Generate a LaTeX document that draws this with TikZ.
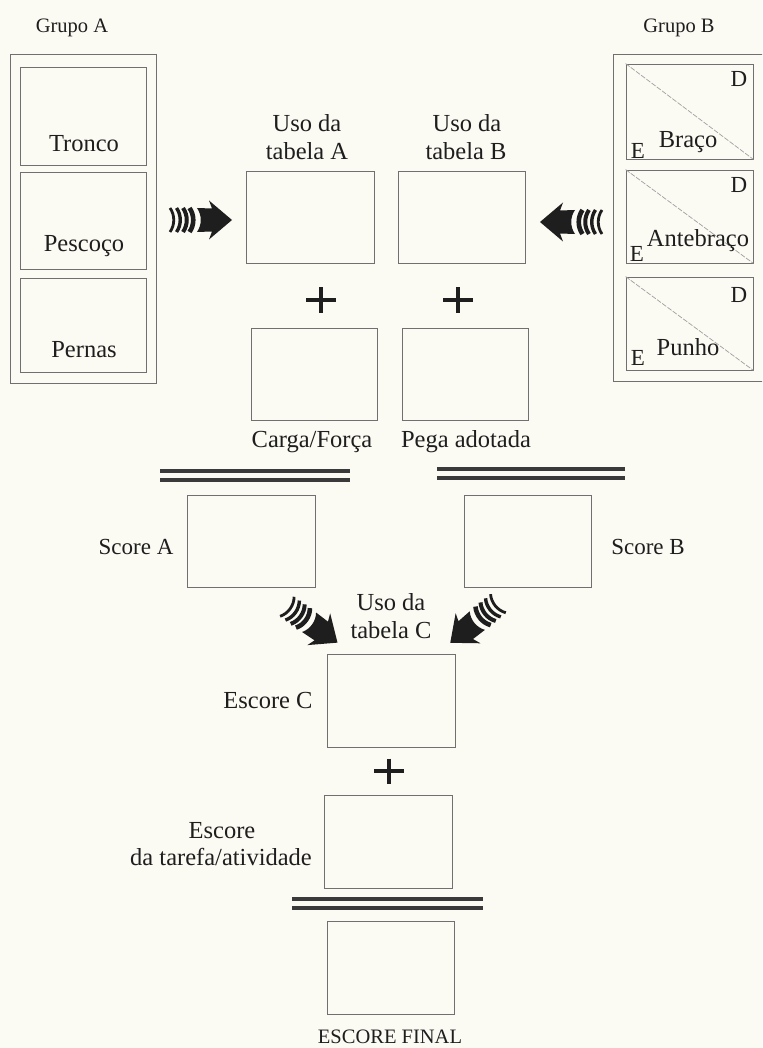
\documentclass[tikz,border=0pt]{standalone}
\usepackage{fontspec}
\setmainfont{Liberation Serif}
\usetikzlibrary{calc}
\definecolor{paper}{HTML}{FBFAF3}
\definecolor{ink}{HTML}{1E1E1E}
\definecolor{frame}{HTML}{707070}
\definecolor{bar}{HTML}{3A3A3A}
\tikzset{
  box/.style={draw=frame, line width=0.9pt, inner sep=0pt},
  lbl/.style={text=ink, font=\fontsize{24.5}{28}\selectfont, inner sep=0pt, anchor=base},
  small/.style={font=\fontsize{20.5}{24}\selectfont},
  mid/.style={font=\fontsize{23}{28}\selectfont},
  plusmark/.style={draw=ink, line width=4pt},
  dbar/.style={draw=bar, line width=3.2pt},
  diag/.style={draw=gray!75, line width=0.7pt, dash pattern=on 5pt off 1.5pt},
  % striped block arrow pointing along +x, centred on the origin
  sarrow/.pic={
    \fill[ink] (-3,-12) .. controls (2,-5) and (2,5) .. (-3,12) -- (12,11.5)
      -- (9,19.5) -- (32,0) -- (9,-19.5) -- (12,-11.5) -- cycle;
    \foreach \x/\w in {-27/2.8,-20.5/3.4,-14/4.0,-7.5/4.6}
      \draw[ink, line width=\w pt] (\x-3,-12) .. controls (\x+2,-5) and (\x+2,5) .. (\x-3,12);
  }
}
\begin{document}
\begin{tikzpicture}[x=1pt,y=-1pt]
\fill[paper] (0,0) rectangle (762,1048);
\useasboundingbox (0,0) rectangle (762,1048);
\clip (0,0) rectangle (762,1048);

% ---- Grupo A ----
\node[lbl, small] (grpAlbl) at (72,33) {Grupo A};
\node[box, minimum width=146pt, minimum height=329pt] (grpA) at (83,218.5) {};
\node[box, minimum width=126pt, minimum height=98pt] (tronco) at (83,116) {};
\node[box, minimum width=126pt, minimum height=97pt] (pescoco) at (83,220.5) {};
\node[box, minimum width=126pt, minimum height=94pt] (pernas) at (83,325) {};
\node[lbl] (troncolbl) at (84,152) {Tronco};
\node[lbl] (pescocolbl) at (84,252) {Pescoço};
\node[lbl] (pernaslbl) at (84,357) {Pernas};

% ---- Grupo B ----
\node[lbl, small] (grpBlbl) at (679,33) {Grupo B};
\node[box, minimum width=162pt, minimum height=327pt] (grpB) at (694,217.5) {};
\node[box, minimum width=127pt, minimum height=95pt] (braco) at (689.5,111.5) {};
\node[box, minimum width=127pt, minimum height=93pt] (antebraco) at (689.5,216.5) {};
\node[box, minimum width=127pt, minimum height=93pt] (punho) at (689.5,323.5) {};
\foreach \b in {braco,antebraco,punho}
  \draw[diag] (\b.north west) -- (\b.south east);
\node[lbl] (bracolbl) at (688,148) {Braço};
\node[lbl] (antebracolbl) at (698,247) {Antebraço};
\node[lbl] (punholbl) at (688,355) {Punho};
\node[lbl, mid] (bracoD) at (739,87) {D};
\node[lbl, mid] (antebracoD) at (739,193) {D};
\node[lbl, mid] (punhoD) at (739,302) {D};
\node[lbl, mid] (bracoE) at (638,159) {E};
\node[lbl, mid] (antebracoE) at (637,262) {E};
\node[lbl, mid] (punhoE) at (638,365) {E};

% ---- tables A and B ----
\node[lbl] (usoA1) at (307,132) {Uso da};
\node[lbl] (usoA2) at (307,160) {tabela A};
\node[lbl] (usoB1) at (467,132) {Uso da};
\node[lbl] (usoB2) at (466,160) {tabela B};
\node[box, minimum width=128pt, minimum height=92pt] (tabA) at (310,217) {};
\node[box, minimum width=127pt, minimum height=92pt] (tabB) at (461.5,217) {};

\coordinate (arrA) at (200,220);
\coordinate (arrB) at (572,222);
\pic at (arrA) {sarrow};
\pic[rotate=180] at (arrB) {sarrow};

\coordinate (plusA) at (321,300);
\coordinate (plusB) at (458,300);
\foreach \p in {plusA,plusB}
  \draw[plusmark] ($(\p)+(-15,0)$) -- ($(\p)+(15,0)$) ($(\p)+(0,-12.5)$) -- ($(\p)+(0,12.5)$);

\node[box, minimum width=126pt, minimum height=92pt] (carga) at (314,374) {};
\node[box, minimum width=126pt, minimum height=92pt] (pega) at (465,374) {};
\node[lbl] (cargalbl) at (312,447) {Carga/Força};
\node[lbl] (pegalbl) at (466,447) {Pega adotada};

% ---- equals bars ----
\coordinate (eqAl) at (160,471); \coordinate (eqAr) at (350,471);
\coordinate (eqBl) at (437,469); \coordinate (eqBr) at (625,469);
\draw[dbar] (eqAl) -- (eqAr) ($(eqAl)+(0,9)$) -- ($(eqAr)+(0,9)$);
\draw[dbar] (eqBl) -- (eqBr) ($(eqBl)+(0,9)$) -- ($(eqBr)+(0,9)$);

% ---- scores A and B ----
\node[box, minimum width=128pt, minimum height=92pt] (scoreA) at (251,541) {};
\node[box, minimum width=127pt, minimum height=92pt] (scoreB) at (527.5,541) {};
\node[lbl, mid] (scoreAlbl) at (136,554) {Score A};
\node[lbl, mid] (scoreBlbl) at (648,554) {Score B};

\node[lbl] (usoC1) at (391,610) {Uso da};
\node[lbl] (usoC2) at (391,638) {tabela C};
\coordinate (arrC) at (311.5,624);
\coordinate (arrD) at (475,622.5);
\pic[rotate=-35.6] at (arrC) {sarrow};
\pic[rotate=-140.6] at (arrD) {sarrow};

% ---- score C, activity, final ----
\node[box, minimum width=128pt, minimum height=93pt] (escC) at (391,700.5) {};
\node[lbl] (escClbl) at (268,708) {Escore C};
\coordinate (plusC) at (389,771);
\draw[plusmark] ($(plusC)+(-15,0)$) -- ($(plusC)+(15,0)$) ($(plusC)+(0,-12.5)$) -- ($(plusC)+(0,12.5)$);
\node[box, minimum width=128pt, minimum height=93pt] (tarefa) at (388,841.5) {};
\node[lbl] (tarefalbl1) at (222,838) {Escore};
\node[lbl, anchor=base east] (tarefalbl2) at (312,865) {da tarefa/atividade};

\coordinate (eqCl) at (292,899); \coordinate (eqCr) at (483,899);
\draw[dbar] (eqCl) -- (eqCr) ($(eqCl)+(0,9)$) -- ($(eqCr)+(0,9)$);

\node[box, minimum width=127pt, minimum height=93pt] (final) at (390.5,967.5) {};
\node[lbl, small] (finallbl) at (390,1043) {ESCORE FINAL};
\end{tikzpicture}
\end{document}
